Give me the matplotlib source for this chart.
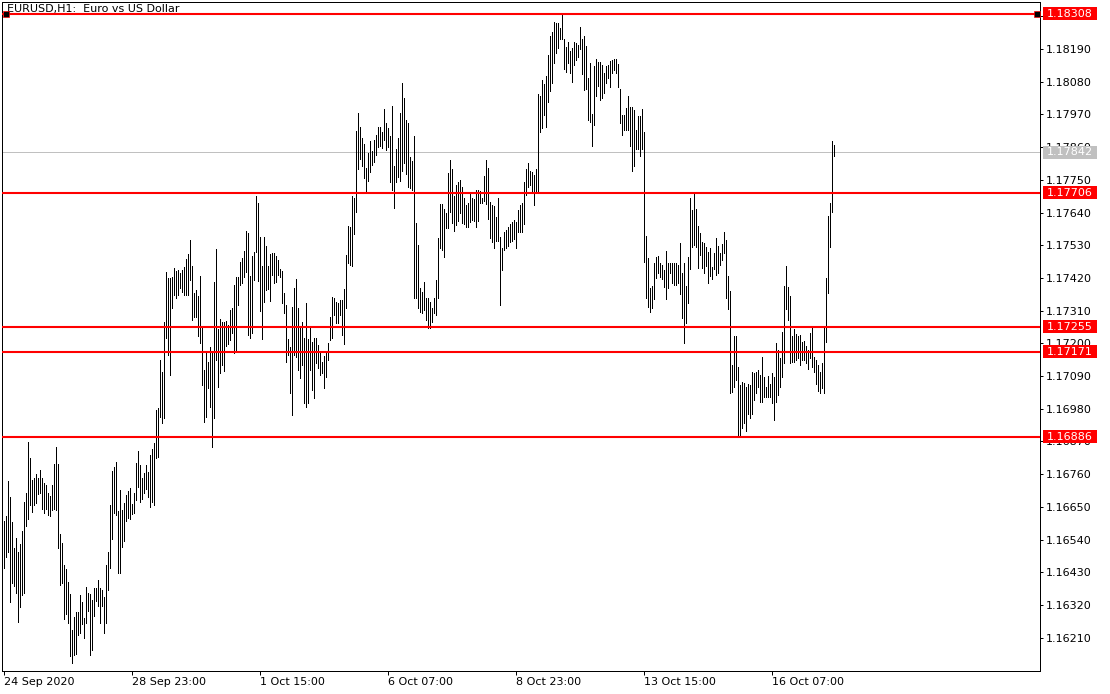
import matplotlib
matplotlib.use('Agg')
import matplotlib.pyplot as plt
import matplotlib.transforms as mtransforms
from matplotlib.patches import Rectangle

# EURUSD H1 bars, 24 Sep 2020 .. 16 Oct 2020 (high / low)
highs = [
    1.16603, 1.16619, 1.16738, 1.16684, 1.16600, 1.16511, 1.16544, 1.16499, 1.16525, 1.16570,
    1.16667, 1.16696, 1.16868, 1.16815, 1.16742, 1.16746, 1.16762, 1.16746, 1.16774, 1.16746,
    1.16729, 1.16723, 1.16696, 1.16687, 1.16723, 1.16794, 1.16850, 1.16793, 1.16559, 1.16527,
    1.16454, 1.16440, 1.16398, 1.16357, 1.16236, 1.16281, 1.16298, 1.16298, 1.16354, 1.16329,
    1.16277, 1.16382, 1.16361, 1.16357, 1.16337, 1.16376, 1.16376, 1.16404, 1.16376, 1.16370,
    1.16348, 1.16454, 1.16497, 1.16656, 1.16770, 1.16783, 1.16800, 1.16636, 1.16706, 1.16639,
    1.16664, 1.16690, 1.16702, 1.16713, 1.16660, 1.16696, 1.16796, 1.16838, 1.16790, 1.16748,
    1.16764, 1.16790, 1.16767, 1.16824, 1.16843, 1.16865,
    1.16975, 1.16981, 1.17144, 1.17105, 1.17273, 1.17441, 1.17419, 1.17419, 1.17424, 1.17452,
    1.17444, 1.17447, 1.17435, 1.17447, 1.17458, 1.17484, 1.17500, 1.17547, 1.17460, 1.17368,
    1.17379, 1.17359, 1.17426, 1.17251, 1.17110, 1.17172, 1.17138, 1.17189, 1.17167, 1.17407,
    1.17517, 1.17248, 1.17281, 1.17273, 1.17273, 1.17276, 1.17262, 1.17312, 1.17320, 1.17396,
    1.17424, 1.17422, 1.17475, 1.17486, 1.17511, 1.17578, 1.17572, 1.17427, 1.17494, 1.17508,
    1.17696, 1.17671, 1.17559, 1.17460, 1.17559, 1.17527, 1.17460, 1.17500, 1.17505, 1.17503,
    1.17494, 1.17480, 1.17449, 1.17444, 1.17370, 1.17329, 1.17214, 1.17189, 1.17323, 1.17385,
    1.17416, 1.17318, 1.17251, 1.17273, 1.17217, 1.17335, 1.17215, 1.17251, 1.17206, 1.17217,
    1.17217, 1.17195, 1.17167, 1.17138, 1.17159, 1.17172, 1.17200, 1.17290, 1.17357, 1.17353,
    1.17340, 1.17335, 1.17346, 1.17346, 1.17383, 1.17497, 1.17596, 1.17592, 1.17694, 1.17688,
    1.17915, 1.17974, 1.17926, 1.17892, 1.17870, 1.17789, 1.17840, 1.17879, 1.17847, 1.17884,
    1.17901, 1.17929, 1.17928, 1.17910, 1.17989, 1.17942, 1.17924, 1.17896, 1.17999, 1.17795,
    1.17854, 1.17890, 1.17974, 1.18075, 1.18024, 1.17952, 1.17941, 1.17828, 1.17814, 1.17898,
    1.17604, 1.17531, 1.17385, 1.17374, 1.17407, 1.17353, 1.17352, 1.17340, 1.17318, 1.17353,
    1.17413, 1.17553, 1.17668, 1.17668, 1.17651, 1.17637, 1.17772, 1.17817, 1.17786, 1.17697,
    1.17733, 1.17742, 1.17750, 1.17727, 1.17690, 1.17665, 1.17671, 1.17706, 1.17690, 1.17686,
    1.17716, 1.17716, 1.17713, 1.17688, 1.17764, 1.17817, 1.17791, 1.17676, 1.17665, 1.17662,
    1.17626, 1.17688, 1.17559, 1.17520, 1.17575, 1.17581, 1.17592, 1.17600, 1.17609, 1.17615,
    1.17609, 1.17648, 1.17665, 1.17673, 1.17741, 1.17786, 1.17806, 1.17778, 1.17776, 1.17767,
    1.17786, 1.18039, 1.18032, 1.18086, 1.18072, 1.18099, 1.18170, 1.18234, 1.18248, 1.18280,
    1.18279, 1.18277, 1.18260, 1.18308, 1.18223, 1.18198, 1.18215, 1.18184, 1.18192, 1.18215,
    1.18209, 1.18204, 1.18263, 1.18223, 1.18232, 1.18200, 1.18092, 1.18142, 1.17972, 1.18133,
    1.18156, 1.18147, 1.18147, 1.18136, 1.18108, 1.18133, 1.18136, 1.18151, 1.18153, 1.18156,
    1.18156, 1.18140, 1.18055, 1.17969, 1.17969, 1.17991, 1.18032, 1.17996, 1.17994, 1.17985,
    1.17918, 1.17965, 1.17965, 1.17988, 1.17912, 1.17561, 1.17486, 1.17385, 1.17393, 1.17469,
    1.17491, 1.17494, 1.17469, 1.17463, 1.17447, 1.17511, 1.17469, 1.17471, 1.17471, 1.17469,
    1.17469, 1.17463, 1.17536, 1.17435, 1.17470, 1.17393, 1.17490, 1.17688, 1.17648, 1.17706,
    1.17651, 1.17595,
    1.17570, 1.17542, 1.17536, 1.17525, 1.17508, 1.17520, 1.17456, 1.17505, 1.17553, 1.17527,
    1.17503, 1.17533, 1.17575, 1.17547, 1.17426, 1.17376, 1.17127, 1.17223, 1.17223, 1.17122,
    1.17060, 1.17071, 1.17066, 1.17054, 1.17063, 1.17060, 1.17105, 1.17101, 1.17105, 1.17110,
    1.17094, 1.17155, 1.17088, 1.17054, 1.17090, 1.17063, 1.17099, 1.17088, 1.17202, 1.17178,
    1.17150, 1.17239, 1.17393, 1.17460, 1.17390, 1.17359, 1.17223, 1.17247, 1.17232, 1.17223,
    1.17228, 1.17206, 1.17209, 1.17191, 1.17178, 1.17234, 1.17256, 1.17153, 1.17144, 1.17127,
    1.17105, 1.17135, 1.17251, 1.17419, 1.17628, 1.17673, 1.17881, 1.17868,
]
lows = [
    1.16444, 1.16480, 1.16499, 1.16331, 1.16393, 1.16384, 1.16360, 1.16264, 1.16312, 1.16354,
    1.16360, 1.16586, 1.16608, 1.16656, 1.16634, 1.16656, 1.16664, 1.16693, 1.16696, 1.16643,
    1.16628, 1.16642, 1.16623, 1.16619, 1.16639, 1.16642, 1.16639, 1.16513, 1.16386, 1.16393,
    1.16273, 1.16289, 1.16259, 1.16149, 1.16124, 1.16152, 1.16155, 1.16219, 1.16225, 1.16255,
    1.16208, 1.16259, 1.16300, 1.16152, 1.16167, 1.16284, 1.16334, 1.16315, 1.16259, 1.16317,
    1.16227, 1.16259, 1.16370, 1.16444, 1.16541, 1.16628, 1.16623, 1.16427, 1.16427, 1.16516,
    1.16536, 1.16603, 1.16612, 1.16608, 1.16626, 1.16628, 1.16673, 1.16717, 1.16667, 1.16678,
    1.16696, 1.16709, 1.16682, 1.16650, 1.16665, 1.16656,
    1.16814, 1.16817, 1.16953, 1.16931, 1.16948, 1.17217, 1.17161, 1.17094, 1.17318, 1.17363,
    1.17352, 1.17363, 1.17385, 1.17374, 1.17363, 1.17363, 1.17363, 1.17413, 1.17279, 1.17288,
    1.17290, 1.17225, 1.17202, 1.17060, 1.16936, 1.16953, 1.17049, 1.16986, 1.16852, 1.16948,
    1.17144, 1.17054, 1.17099, 1.17127, 1.17108, 1.17191, 1.17197, 1.17211, 1.17234, 1.17167,
    1.17172, 1.17329, 1.17396, 1.17402, 1.17424, 1.17441, 1.17228, 1.17217, 1.17236, 1.17413,
    1.17508, 1.17410, 1.17310, 1.17214, 1.17340, 1.17379, 1.17382, 1.17344, 1.17430, 1.17402,
    1.17407, 1.17430, 1.17424, 1.17335, 1.17301, 1.17138, 1.17161, 1.17032, 1.16959, 1.17161,
    1.17155, 1.17110, 1.17085, 1.17127, 1.16998, 1.16986, 1.16998, 1.17110, 1.17043, 1.17017,
    1.17133, 1.17116, 1.17094, 1.17099, 1.17051, 1.17088, 1.17144, 1.17211, 1.17217, 1.17296,
    1.17268, 1.17268, 1.17296, 1.17228, 1.17197, 1.17320, 1.17469, 1.17463, 1.17461, 1.17567,
    1.17643, 1.17787, 1.17820, 1.17795, 1.17756, 1.17713, 1.17747, 1.17776, 1.17800, 1.17809,
    1.17832, 1.17859, 1.17865, 1.17857, 1.17883, 1.17851, 1.17859, 1.17742, 1.17716, 1.17654,
    1.17742, 1.17761, 1.17747, 1.17778, 1.17808, 1.17769, 1.17727, 1.17724, 1.17716, 1.17353,
    1.17353, 1.17318, 1.17307, 1.17301, 1.17312, 1.17279, 1.17251, 1.17251, 1.17271, 1.17301,
    1.17296, 1.17352, 1.17520, 1.17514, 1.17491, 1.17587, 1.17587, 1.17643, 1.17604, 1.17578,
    1.17598, 1.17612, 1.17637, 1.17604, 1.17600, 1.17592, 1.17592, 1.17609, 1.17615, 1.17611,
    1.17592, 1.17611, 1.17671, 1.17671, 1.17679, 1.17668, 1.17618, 1.17555, 1.17542, 1.17520,
    1.17544, 1.17544, 1.17329, 1.17447, 1.17514, 1.17520, 1.17528, 1.17542, 1.17544, 1.17551,
    1.17520, 1.17575, 1.17575, 1.17575, 1.17600, 1.17699, 1.17727, 1.17733, 1.17710, 1.17665,
    1.17707, 1.17710, 1.17912, 1.17924, 1.17969, 1.17929, 1.18013, 1.18050, 1.18077, 1.18142,
    1.18178, 1.18192, 1.18223, 1.18223, 1.18122, 1.18114, 1.18144, 1.18108, 1.18080, 1.18136,
    1.18153, 1.18164, 1.18189, 1.18106, 1.18052, 1.18055, 1.17952, 1.17943, 1.17864, 1.17935,
    1.18032, 1.18066, 1.18019, 1.18024, 1.18043, 1.18075, 1.18092, 1.18063, 1.18108, 1.18120,
    1.18108, 1.18063, 1.17941, 1.17901, 1.17918, 1.17918, 1.17918, 1.17864, 1.17781, 1.17795,
    1.17853, 1.17853, 1.17831, 1.17853, 1.17475, 1.17352, 1.17323, 1.17307, 1.17318, 1.17348,
    1.17419, 1.17435, 1.17424, 1.17415, 1.17390, 1.17348, 1.17385, 1.17435, 1.17402, 1.17396,
    1.17396, 1.17402, 1.17366, 1.17285, 1.17201, 1.17269, 1.17336, 1.17449, 1.17524, 1.17531,
    1.17525, 1.17452,
    1.17497, 1.17452, 1.17437, 1.17460, 1.17404, 1.17426, 1.17415, 1.17449, 1.17430, 1.17435,
    1.17463, 1.17480, 1.17505, 1.17352, 1.17315, 1.17032, 1.17038, 1.17054, 1.17077, 1.16891,
    1.16886, 1.16914, 1.16931, 1.16906, 1.16964, 1.16948, 1.16964, 1.17009, 1.17032, 1.17054,
    1.17003, 1.17003, 1.17021, 1.17021, 1.17019, 1.17021, 1.16998, 1.16942, 1.17003, 1.17026,
    1.17054, 1.17088, 1.17135, 1.17315, 1.17279, 1.17133, 1.17138, 1.17138, 1.17144, 1.17150,
    1.17127, 1.17144, 1.17144, 1.17133, 1.17113, 1.17150, 1.17122, 1.17105, 1.17063, 1.17041,
    1.17032, 1.17049, 1.17032, 1.17206, 1.17370, 1.17525, 1.17643, 1.17831,
]

levels = [1.18308, 1.17706, 1.17255, 1.17171, 1.16886]   # red horizontal lines
last_price = 1.17842                                       # grey bid line

date_bars = [0, 64, 128, 192, 256, 320, 384]
date_labels = ['24 Sep 2020', '28 Sep 23:00', '1 Oct 15:00', '6 Oct 07:00',
               '8 Oct 23:00', '13 Oct 15:00', '16 Oct 07:00']
price_ticks = [1.16210, 1.16320, 1.16430, 1.16540, 1.16650, 1.16760, 1.16870,
               1.16980, 1.17090, 1.17200, 1.17310, 1.17420, 1.17530, 1.17640,
               1.17750, 1.17860, 1.17970, 1.18080, 1.18190, 1.18300]

W, H = 1110, 694
fig = plt.figure(figsize=(W / 100, H / 100), dpi=100)
ax = fig.add_axes([2 / W, 23 / H, 1038 / W, 669 / H])

x = list(range(len(highs)))
ax.vlines(x, lows, highs, colors='black', linewidth=0.72, antialiased=False, zorder=3)

ax.axhline(last_price, color='#c0c0c0', lw=0.72, zorder=1)
for lv in levels:
    ax.axhline(lv, color='#ff0000', lw=1.5, zorder=4)

ax.set_xlim(-1.15, 517.85)
ax.set_ylim(1.16098, 1.18348)

# price scale on the right
ax.yaxis.tick_right()
ax.set_yticks(price_ticks)
ax.set_yticklabels(['%.5f' % p for p in price_ticks])
ax.tick_params(axis='y', direction='out', length=2.5, width=0.72, pad=1.5,
               labelsize=8, colors='black')

ax.set_xticks(date_bars)
ax.set_xticklabels(date_labels)
ax.tick_params(axis='x', direction='out', length=3, width=0.72, pad=1.5,
               labelsize=8, colors='black')
for lbl in ax.get_xticklabels():
    lbl.set_ha('left')

for s in ax.spines.values():
    s.set_linewidth(0.72)
    s.set_color('black')

trans = mtransforms.blended_transform_factory(ax.transAxes, ax.transData)
box_h = 13 * 0.00003364
bx = (1043 - 2) / 1038
bw = 54 / 1038
for lv in levels:
    ax.add_patch(Rectangle((bx, lv - box_h / 2), bw, box_h, transform=trans,
                           facecolor='#ff0000', edgecolor='none', clip_on=False, zorder=5))
    ax.text((1047 - 2) / 1038, lv, '%.5f' % lv, transform=trans, color='white',
            fontsize=8, ha='left', va='center', clip_on=False, zorder=6)
ax.add_patch(Rectangle((bx, last_price - box_h / 2), bw, box_h, transform=trans,
                       facecolor='#c0c0c0', edgecolor='none', clip_on=False, zorder=5))
ax.text((1047 - 2) / 1038, last_price, '%.5f' % last_price, transform=trans,
        color='white', fontsize=8, ha='left', va='center', clip_on=False, zorder=6)

# selection handles on the top line
ax.plot([4 / 1038, 1034.5 / 1038], [levels[0], levels[0]], 's', ms=4.3,
        mfc='black', mec='#ff0000', mew=0.5, transform=trans, clip_on=False, zorder=7)

ax.text(5 / 1038, 1 - 2 / 669, 'EURUSD,H1:  Euro vs US Dollar', transform=ax.transAxes,
        fontsize=8, ha='left', va='top', color='black', zorder=2)

fig.savefig('out.png', dpi=100, facecolor='white')
